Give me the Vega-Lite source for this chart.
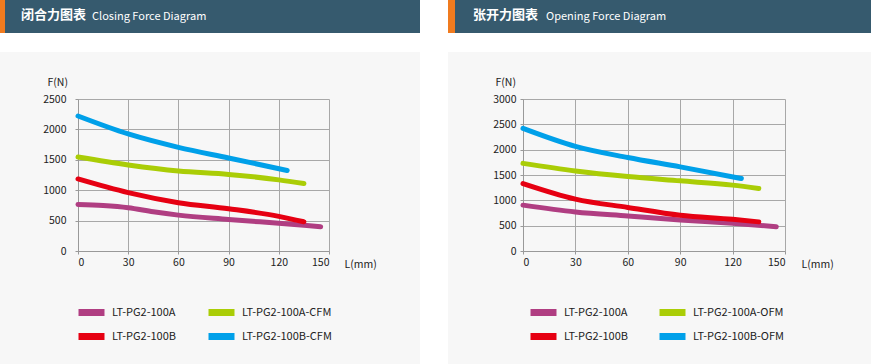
{
  "$schema": "https://vega.github.io/schema/vega-lite/v6.json",
  "padding": 0,
  "background": "#f7f7f7",
  "datasets": {
    "d": [
      {"p": "C", "s": "LT-PG2-100A", "L": 0, "F": 766},
      {"p": "C", "s": "LT-PG2-100A", "L": 15, "F": 748},
      {"p": "C", "s": "LT-PG2-100A", "L": 30, "F": 712},
      {"p": "C", "s": "LT-PG2-100A", "L": 45, "F": 645},
      {"p": "C", "s": "LT-PG2-100A", "L": 60, "F": 590},
      {"p": "C", "s": "LT-PG2-100A", "L": 90, "F": 520},
      {"p": "C", "s": "LT-PG2-100A", "L": 120, "F": 455},
      {"p": "C", "s": "LT-PG2-100A", "L": 145, "F": 400},
      {"p": "C", "s": "LT-PG2-100A-CFM", "L": 0, "F": 1545},
      {"p": "C", "s": "LT-PG2-100A-CFM", "L": 30, "F": 1415},
      {"p": "C", "s": "LT-PG2-100A-CFM", "L": 60, "F": 1315},
      {"p": "C", "s": "LT-PG2-100A-CFM", "L": 90, "F": 1260},
      {"p": "C", "s": "LT-PG2-100A-CFM", "L": 120, "F": 1170},
      {"p": "C", "s": "LT-PG2-100A-CFM", "L": 135, "F": 1110},
      {"p": "C", "s": "LT-PG2-100B", "L": 0, "F": 1185},
      {"p": "C", "s": "LT-PG2-100B", "L": 30, "F": 960},
      {"p": "C", "s": "LT-PG2-100B", "L": 60, "F": 795},
      {"p": "C", "s": "LT-PG2-100B", "L": 90, "F": 695},
      {"p": "C", "s": "LT-PG2-100B", "L": 120, "F": 570},
      {"p": "C", "s": "LT-PG2-100B", "L": 135, "F": 480},
      {"p": "C", "s": "LT-PG2-100B-CFM", "L": 0, "F": 2220},
      {"p": "C", "s": "LT-PG2-100B-CFM", "L": 30, "F": 1925},
      {"p": "C", "s": "LT-PG2-100B-CFM", "L": 60, "F": 1705},
      {"p": "C", "s": "LT-PG2-100B-CFM", "L": 90, "F": 1530},
      {"p": "C", "s": "LT-PG2-100B-CFM", "L": 125, "F": 1325},
      {"p": "O", "s": "LT-PG2-100A", "L": 0, "F": 905},
      {"p": "O", "s": "LT-PG2-100A", "L": 30, "F": 770},
      {"p": "O", "s": "LT-PG2-100A", "L": 60, "F": 690},
      {"p": "O", "s": "LT-PG2-100A", "L": 90, "F": 612},
      {"p": "O", "s": "LT-PG2-100A", "L": 120, "F": 548},
      {"p": "O", "s": "LT-PG2-100A", "L": 145, "F": 480},
      {"p": "O", "s": "LT-PG2-100A-OFM", "L": 0, "F": 1730},
      {"p": "O", "s": "LT-PG2-100A-OFM", "L": 30, "F": 1580},
      {"p": "O", "s": "LT-PG2-100A-OFM", "L": 60, "F": 1470},
      {"p": "O", "s": "LT-PG2-100A-OFM", "L": 90, "F": 1385},
      {"p": "O", "s": "LT-PG2-100A-OFM", "L": 120, "F": 1300},
      {"p": "O", "s": "LT-PG2-100A-OFM", "L": 135, "F": 1235},
      {"p": "O", "s": "LT-PG2-100B", "L": 0, "F": 1330},
      {"p": "O", "s": "LT-PG2-100B", "L": 30, "F": 1025},
      {"p": "O", "s": "LT-PG2-100B", "L": 60, "F": 860},
      {"p": "O", "s": "LT-PG2-100B", "L": 90, "F": 705},
      {"p": "O", "s": "LT-PG2-100B", "L": 120, "F": 625},
      {"p": "O", "s": "LT-PG2-100B", "L": 135, "F": 575},
      {"p": "O", "s": "LT-PG2-100B-OFM", "L": 0, "F": 2420},
      {"p": "O", "s": "LT-PG2-100B-OFM", "L": 30, "F": 2065},
      {"p": "O", "s": "LT-PG2-100B-OFM", "L": 60, "F": 1845},
      {"p": "O", "s": "LT-PG2-100B-OFM", "L": 90, "F": 1660},
      {"p": "O", "s": "LT-PG2-100B-OFM", "L": 125, "F": 1430}
    ]
  },
  "config": {
    "view": {"stroke": null},
    "font": "Noto Sans CJK SC",
    "axis": {
      "gridColor": "#a8a8a8",
      "gridWidth": 1,
      "domainColor": "#999999",
      "tickColor": "#999999",
      "tickSize": 3,
      "labelFont": "Noto Sans CJK SC",
      "labelFontSize": 10.5,
      "labelColor": "#222222",
      "titleFont": "Noto Sans CJK SC",
      "titleFontSize": 10.5,
      "titleFontWeight": "normal",
      "titleColor": "#222222"
    },
    "legend": {
      "labelFont": "Noto Sans CJK SC",
      "labelFontSize": 11,
      "labelColor": "#222222",
      "symbolType": "M-1,0H3",
      "symbolStrokeWidth": 7,
      "symbolSize": 169,
      "labelOffset": 17,
      "padding": 0
    },
    "title": {"color": "#ffffff", "font": "Noto Sans CJK SC", "anchor": "start", "frame": "group", "baseline": "middle", "offset": -22, "limit": 400}
  },
  "resolve": {"scale": {"color": "independent", "x": "independent", "y": "independent"}, "legend": {"color": "independent"}},
  "bounds": "flush",
  "spacing": 0,
  "columns": 9,
  "concat": [
    {"width": 5, "height": 33, "view": {"fill": "#f07b1f"}, "data": {"values": []}, "mark": "point"},
    {"width": 73, "height": 33, "view": {"fill": "#365a6e"}, "data": {"values": []}, "mark": "point"},
    {"width": 251, "height": 33, "view": {"fill": "#365a6e"}, "data": {"values": []}, "mark": "point",
     "title": {"text": "闭合力图表", "dx": -57, "fontSize": 13, "fontWeight": "bold"}},
    {"width": 91, "height": 33, "view": {"fill": "#365a6e"}, "data": {"values": []}, "mark": "point",
     "title": {"text": "Closing Force Diagram", "dx": -237, "fontSize": 11, "fontWeight": "normal"}},
    {"width": 28, "height": 33, "view": {"fill": "#ffffff"}, "data": {"values": []}, "mark": "point"},
    {"width": 7, "height": 33, "view": {"fill": "#f07b1f"}, "data": {"values": []}, "mark": "point"},
    {"width": 68, "height": 33, "view": {"fill": "#365a6e"}, "data": {"values": []}, "mark": "point"},
    {"width": 262, "height": 33, "view": {"fill": "#365a6e"}, "data": {"values": []}, "mark": "point",
     "title": {"text": "张开力图表", "dx": -50, "fontSize": 13, "fontWeight": "bold"}},
    {"width": 86, "height": 33, "view": {"fill": "#365a6e"}, "data": {"values": []}, "mark": "point",
     "title": {"text": "Opening Force Diagram", "dx": -239, "fontSize": 11, "fontWeight": "normal"}},

    {"width": 5, "height": 19, "view": {"fill": "#ffffff"}, "data": {"values": []}, "mark": "point"},
    {"width": 73, "height": 19, "view": {"fill": "#ffffff"}, "data": {"values": []}, "mark": "point"},
    {"width": 251, "height": 19, "view": {"fill": "#ffffff"}, "data": {"values": []}, "mark": "point"},
    {"width": 91, "height": 19, "view": {"fill": "#ffffff"}, "data": {"values": []}, "mark": "point"},
    {"width": 28, "height": 19, "view": {"fill": "#ffffff"}, "data": {"values": []}, "mark": "point"},
    {"width": 7, "height": 19, "view": {"fill": "#ffffff"}, "data": {"values": []}, "mark": "point"},
    {"width": 68, "height": 19, "view": {"fill": "#ffffff"}, "data": {"values": []}, "mark": "point"},
    {"width": 262, "height": 19, "view": {"fill": "#ffffff"}, "data": {"values": []}, "mark": "point"},
    {"width": 86, "height": 19, "view": {"fill": "#ffffff"}, "data": {"values": []}, "mark": "point"},

    {"width": 5, "height": 47, "data": {"values": []}, "mark": "point"},
    {"width": 73, "height": 47, "data": {"values": []}, "mark": "point"},
    {"width": 251, "height": 47, "data": {"values": []}, "mark": "point"},
    {"width": 91, "height": 47, "data": {"values": []}, "mark": "point"},
    {"width": 28, "height": 47, "view": {"fill": "#ffffff"}, "data": {"values": []}, "mark": "point"},
    {"width": 7, "height": 47, "data": {"values": []}, "mark": "point"},
    {"width": 68, "height": 47, "data": {"values": []}, "mark": "point"},
    {"width": 262, "height": 47, "data": {"values": []}, "mark": "point"},
    {"width": 86, "height": 47, "data": {"values": []}, "mark": "point"},

    {"width": 5, "height": 152, "data": {"values": []}, "mark": "point"},
    {"width": 73, "height": 152, "data": {"values": []}, "mark": "point"},
    {
      "width": 251,
      "height": 152,
      "data": {"name": "d"},
      "transform": [{"filter": "datum.p === 'C'"}],
      "mark": {"type": "line", "strokeWidth": 5, "strokeCap": "round", "strokeJoin": "round", "interpolate": "monotone"},
      "encoding": {
        "x": {"field": "L", "type": "quantitative", "scale": {"domain": [0, 150], "nice": false},
              "axis": {"values": [0, 30, 60, 90, 120, 150], "format": "d", "title": "L(mm)", "titleX": 266, "titleY": 13, "titleAlign": "left", "titleBaseline": "middle", "labelPadding": 3}},
        "y": {"field": "F", "type": "quantitative", "scale": {"domain": [0, 2500], "nice": false},
              "axis": {"values": [0, 500, 1000, 1500, 2000, 2500], "format": "d", "title": "F(N)", "titleAngle": 0, "titleX": -31, "titleY": -16.5, "titleAlign": "left", "titleBaseline": "middle", "labelPadding": 9}},
        "color": {"field": "s", "type": "nominal", "sort": null,
                  "scale": {"domain": ["LT-PG2-100A", "LT-PG2-100A-CFM", "LT-PG2-100B", "LT-PG2-100B-CFM"], "range": ["#b03e82", "#aacd06", "#e60012", "#00a0e9"]},
                  "legend": {"title": null, "orient": "none", "direction": "horizontal", "legendX": -3, "legendY": 203.5, "columns": 2, "columnPadding": 17, "rowPadding": -5}}
      }
    },
    {"width": 91, "height": 152, "data": {"values": []}, "mark": "point"},
    {"width": 28, "height": 152, "view": {"fill": "#ffffff"}, "data": {"values": []}, "mark": "point"},
    {"width": 7, "height": 152, "data": {"values": []}, "mark": "point"},
    {"width": 68, "height": 152, "data": {"values": []}, "mark": "point"},
    {
      "width": 262,
      "height": 152,
      "data": {"name": "d"},
      "transform": [{"filter": "datum.p === 'O'"}],
      "mark": {"type": "line", "strokeWidth": 5, "strokeCap": "round", "strokeJoin": "round", "interpolate": "monotone"},
      "encoding": {
        "x": {"field": "L", "type": "quantitative", "scale": {"domain": [0, 150], "nice": false},
              "axis": {"values": [0, 30, 60, 90, 120, 150], "format": "d", "title": "L(mm)", "titleX": 278, "titleY": 13, "titleAlign": "left", "titleBaseline": "middle", "labelPadding": 3}},
        "y": {"field": "F", "type": "quantitative", "scale": {"domain": [0, 3000], "nice": false},
              "axis": {"values": [0, 500, 1000, 1500, 2000, 2500, 3000], "format": "d", "title": "F(N)", "titleAngle": 0, "titleX": -28, "titleY": -17, "titleAlign": "left", "titleBaseline": "middle", "labelPadding": 4}},
        "color": {"field": "s", "type": "nominal", "sort": null,
                  "scale": {"domain": ["LT-PG2-100A", "LT-PG2-100A-OFM", "LT-PG2-100B", "LT-PG2-100B-OFM"], "range": ["#b03e82", "#aacd06", "#e60012", "#00a0e9"]},
                  "legend": {"title": null, "orient": "none", "direction": "horizontal", "legendX": 4, "legendY": 203.5, "columns": 2, "columnPadding": 16, "rowPadding": -5}}
      }
    },
    {"width": 86, "height": 152, "data": {"values": []}, "mark": "point"},

    {"width": 5, "height": 113, "data": {"values": []}, "mark": "point"},
    {"width": 73, "height": 113, "data": {"values": []}, "mark": "point"},
    {"width": 251, "height": 113, "data": {"values": []}, "mark": "point"},
    {"width": 91, "height": 113, "data": {"values": []}, "mark": "point"},
    {"width": 28, "height": 113, "view": {"fill": "#ffffff"}, "data": {"values": []}, "mark": "point"},
    {"width": 7, "height": 113, "data": {"values": []}, "mark": "point"},
    {"width": 68, "height": 113, "data": {"values": []}, "mark": "point"},
    {"width": 262, "height": 113, "data": {"values": []}, "mark": "point"},
    {"width": 86, "height": 113, "data": {"values": []}, "mark": "point"}
  ]
}
